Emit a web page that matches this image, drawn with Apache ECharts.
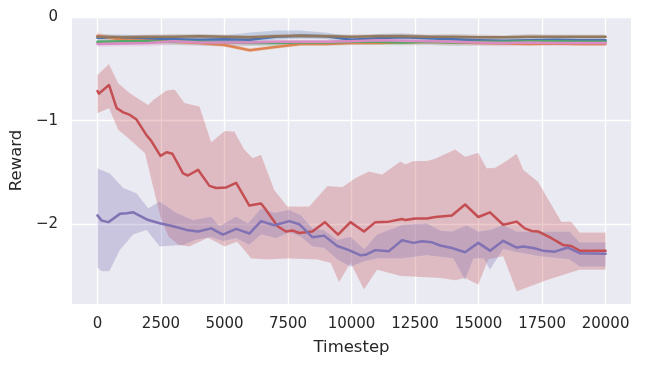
<!DOCTYPE html>
<html>
<head>
<meta charset="utf-8">
<script src="https://cdn.jsdelivr.net/npm/echarts@6/dist/echarts.min.js"></script>
<style>
  html, body { margin: 0; padding: 0; background: #fff; }
  #chart { width: 647px; height: 367px; }
</style>
</head>
<body>
<div id="chart"></div>
<script>
// axis ticks
const xTicks = [0, 2500, 5000, 7500, 10000, 12500, 15000, 17500, 20000];
const yTicks = [-2, -1, 0];

// the flat runs near the top share one x grid
const topX = [0, 1000, 2000, 3000, 4000, 5000, 6000, 7000, 8000, 9000, 10000,
  11000, 12000, 13000, 14000, 15000, 16000, 17000, 18000, 19000, 20000];
const blueY = [-0.20, -0.20, -0.21, -0.215, -0.22, -0.215, -0.22, -0.19, -0.18, -0.185, -0.22,
  -0.205, -0.195, -0.205, -0.215, -0.225, -0.23, -0.225, -0.22, -0.225, -0.225];
const blueHi = [-0.17, -0.17, -0.18, -0.18, -0.17, -0.175, -0.15, -0.13, -0.13, -0.15, -0.19,
  -0.165, -0.16, -0.175, -0.185, -0.19, -0.19, -0.185, -0.19, -0.195, -0.195];
const blueLo = [-0.23, -0.23, -0.24, -0.245, -0.25, -0.245, -0.25, -0.22, -0.21, -0.215, -0.26,
  -0.235, -0.235, -0.235, -0.245, -0.255, -0.26, -0.265, -0.25, -0.255, -0.255];
const orangeY = [-0.18, -0.22, -0.23, -0.24, -0.25, -0.27, -0.32, -0.29, -0.26, -0.26, -0.25,
  -0.25, -0.245, -0.24, -0.245, -0.25, -0.255, -0.26, -0.255, -0.26, -0.26];
const orangeHi = [-0.15, -0.2, -0.21, -0.22, -0.23, -0.25, -0.3, -0.27, -0.24, -0.24, -0.23,
  -0.23, -0.225, -0.22, -0.225, -0.23, -0.235, -0.24, -0.235, -0.24, -0.24];
const orangeLo = [-0.21, -0.24, -0.25, -0.26, -0.27, -0.29, -0.34, -0.31, -0.28, -0.28, -0.27,
  -0.27, -0.265, -0.26, -0.265, -0.27, -0.275, -0.28, -0.275, -0.28, -0.28];
const greenY = [-0.24, -0.235, -0.235, -0.24, -0.24, -0.245, -0.25, -0.25, -0.245, -0.245, -0.24,
  -0.24, -0.245, -0.24, -0.245, -0.24, -0.24, -0.235, -0.235, -0.24, -0.24];
const greenHi = [-0.22, -0.215, -0.215, -0.22, -0.22, -0.225, -0.23, -0.23, -0.225, -0.225, -0.22,
  -0.22, -0.225, -0.22, -0.225, -0.22, -0.22, -0.215, -0.215, -0.22, -0.22];
const greenLo = [-0.27, -0.265, -0.265, -0.27, -0.275, -0.28, -0.28, -0.28, -0.275, -0.275, -0.27,
  -0.27, -0.275, -0.27, -0.28, -0.275, -0.27, -0.265, -0.265, -0.27, -0.27];
const brownY = [-0.19, -0.195, -0.19, -0.19, -0.185, -0.19, -0.195, -0.185, -0.18, -0.185, -0.19,
  -0.185, -0.185, -0.19, -0.19, -0.195, -0.195, -0.19, -0.19, -0.19, -0.19];
const brownHi = [-0.17, -0.175, -0.17, -0.165, -0.165, -0.17, -0.175, -0.165, -0.16, -0.165, -0.17,
  -0.165, -0.16, -0.17, -0.165, -0.17, -0.175, -0.165, -0.17, -0.17, -0.17];
const brownLo = [-0.21, -0.215, -0.21, -0.21, -0.205, -0.21, -0.215, -0.205, -0.2, -0.205, -0.21,
  -0.205, -0.205, -0.21, -0.21, -0.215, -0.215, -0.21, -0.21, -0.21, -0.21];
const pinkY = [-0.26, -0.255, -0.25, -0.235, -0.245, -0.245, -0.245, -0.24, -0.24, -0.24, -0.235,
  -0.225, -0.23, -0.235, -0.24, -0.245, -0.25, -0.245, -0.25, -0.25, -0.25];
const pinkHi = [-0.24, -0.235, -0.23, -0.215, -0.225, -0.225, -0.225, -0.22, -0.22, -0.22, -0.215,
  -0.205, -0.21, -0.215, -0.22, -0.225, -0.23, -0.225, -0.23, -0.23, -0.23];
const pinkLo = [-0.29, -0.285, -0.285, -0.27, -0.28, -0.285, -0.28, -0.27, -0.27, -0.27, -0.265,
  -0.255, -0.265, -0.27, -0.275, -0.28, -0.285, -0.275, -0.28, -0.28, -0.28];

// red run
const redX = [0, 60, 455, 756, 1020, 1280, 1540, 1930, 2130, 2480, 2720, 2950, 3370, 3560, 3960,
  4410, 4670, 5070, 5460, 5980, 6440, 6630, 7090, 7420, 7680, 7940, 8460, 8950, 9470, 9960,
  10490, 10940, 11470, 11990, 12120, 12510, 12970, 13300, 13950, 14470, 14990, 15450, 15970,
  16500, 16820, 17080, 17340, 17870, 18320, 18650, 18980, 20000];
const redY = [-0.714, -0.74, -0.656, -0.88, -0.92, -0.945, -0.99, -1.14, -1.20, -1.34, -1.305,
  -1.32, -1.51, -1.53, -1.475, -1.63, -1.65, -1.645, -1.60, -1.82, -1.80, -1.86, -2.02, -2.07,
  -2.06, -2.085, -2.07, -1.98, -2.10, -1.98, -2.07, -1.98, -1.975, -1.95, -1.96, -1.945, -1.945,
  -1.93, -1.915, -1.81, -1.93, -1.885, -2.005, -1.975, -2.04, -2.065, -2.07, -2.135, -2.20,
  -2.21, -2.255, -2.255];
const redHiX = [0, 455, 820, 1280, 2000, 2190, 2720, 3040, 3430, 4020, 4480, 5000, 5390, 5780,
  6110, 6440, 6960, 7480, 8330, 9050, 9640, 10160, 10680, 11210, 11920, 12120, 12440, 12970,
  13300, 14080, 14470, 14990, 15320, 15650, 15970, 16500, 16760, 17340, 18260, 18650, 18980, 20000];
const redHiY = [-0.56, -0.453, -0.64, -0.736, -0.85, -0.80, -0.71, -0.70, -0.83, -0.865, -1.21,
  -1.10, -1.105, -1.28, -1.36, -1.33, -1.67, -1.83, -1.83, -1.63, -1.64, -1.555, -1.49, -1.52,
  -1.395, -1.42, -1.39, -1.39, -1.365, -1.28, -1.35, -1.31, -1.46, -1.455, -1.41, -1.32, -1.475,
  -1.59, -1.975, -1.975, -2.08, -2.08];
const redLoX = [0, 455, 820, 1150, 1870, 2190, 2480, 2800, 3200, 3630, 4350, 5000, 5500, 6050,
  6700, 7480, 8660, 9180, 9510, 9960, 10490, 11010, 11920, 13490, 14080, 14470, 14990, 15380,
  15970, 16500, 17020, 17670, 18980, 20000];
const redLoY = [-0.93, -0.88, -1.09, -1.155, -1.315, -1.64, -1.93, -2.12, -2.2, -2.215, -2.13,
  -2.215, -2.17, -2.33, -2.34, -2.33, -2.34, -2.375, -2.56, -2.375, -2.63, -2.44, -2.50, -2.52,
  -2.54, -2.52, -2.585, -2.34, -2.31, -2.65, -2.60, -2.54, -2.44, -2.44];

// purple run
const purX = [0, 170, 430, 885, 1150, 1410, 2000, 2450, 2980, 3500, 3960, 4480, 4940, 5460, 5980,
  6440, 6960, 7550, 7940, 8460, 8920, 9440, 9900, 10360, 10550, 10940, 11470, 11990, 12440,
  12770, 13170, 13490, 13950, 14470, 14990, 15450, 15970, 16500, 16760, 17150, 17540, 18000,
  18520, 18980, 20000];
const purY = [-1.915, -1.965, -1.98, -1.90, -1.895, -1.885, -1.96, -1.99, -2.02, -2.055, -2.07,
  -2.04, -2.10, -2.045, -2.09, -1.97, -2.01, -1.97, -2.0, -2.125, -2.11, -2.21, -2.25, -2.30,
  -2.295, -2.25, -2.26, -2.155, -2.18, -2.165, -2.175, -2.205, -2.23, -2.27, -2.18, -2.255,
  -2.16, -2.225, -2.215, -2.23, -2.255, -2.265, -2.225, -2.28, -2.285];
const purHiX = [0, 495, 1020, 1540, 2000, 2450, 3110, 3760, 4480, 4800, 5460, 5920, 6440, 6960,
  7550, 8000, 8460, 8920, 9440, 9960, 10500, 11000, 12000, 12970, 13490, 13950, 14520, 15000,
  15510, 15970, 16500, 17400, 18580, 18980, 20000];
const purHiY = [-1.46, -1.51, -1.65, -1.70, -1.845, -1.78, -1.89, -1.96, -1.925, -2.02, -1.925,
  -1.99, -1.845, -1.89, -1.86, -1.91, -2.04, -2.055, -2.15, -2.12, -2.24, -2.1, -2.005, -1.99,
  -2.06, -2.07, -2.01, -2.07, -2.05, -2.005, -2.07, -2.07, -2.07, -2.175, -2.175];
const purLoX = [0, 170, 470, 885, 1410, 1930, 2450, 3370, 3890, 4480, 4940, 5460, 5980, 6440,
  7030, 7550, 8000, 8460, 8920, 9440, 9960, 10500, 11000, 12000, 12970, 14000, 14470, 14800,
  15200, 15450, 15970, 16500, 17400, 18580, 18980, 20000];
const purLoY = [-2.42, -2.455, -2.455, -2.25, -2.10, -2.055, -2.215, -2.2, -2.15, -2.125, -2.165,
  -2.135, -2.20, -2.10, -2.135, -2.08, -2.12, -2.215, -2.23, -2.34, -2.41, -2.36, -2.33, -2.33,
  -2.30, -2.33, -2.54, -2.33, -2.33, -2.44, -2.24, -2.27, -2.31, -2.34, -2.41, -2.41];

const textColor = "#262626";
const font = "DejaVu Sans";

const zip = (xs, ys) => xs.map((x, i) => [x, ys[i]]);

const bandSeries = (hiX, hiY, loX, loY, color, alpha) => ({
  type: "custom",
  silent: true,
  z: 1,
  data: [[0, 0]],
  renderItem: (params, api) => {
    const pts = [];
    for (let i = 0; i < hiX.length; i++) pts.push(api.coord([hiX[i], hiY[i]]));
    for (let i = loX.length - 1; i >= 0; i--) pts.push(api.coord([loX[i], loY[i]]));
    return {
      type: "polygon",
      shape: { points: pts },
      style: { fill: color, opacity: alpha, stroke: "rgba(255,255,255,0.35)", lineWidth: 0.8 }
    };
  }
});

const lineSeries = (xs, ys, color) => ({
  type: "line",
  data: zip(xs, ys),
  showSymbol: false,
  silent: true,
  z: 2,
  lineStyle: { color, width: 2.5, cap: "round", join: "round" },
  itemStyle: { color }
});

const runs = [
  { x: topX, y: blueY, hx: topX, hi: blueHi, lx: topX, lo: blueLo, color: "#4C72B0", a: 0.25 },
  { x: topX, y: orangeY, hx: topX, hi: orangeHi, lx: topX, lo: orangeLo, color: "#DD8452", a: 0.22 },
  { x: topX, y: greenY, hx: topX, hi: greenHi, lx: topX, lo: greenLo, color: "#55A868", a: 0.22 },
  { x: redX, y: redY, hx: redHiX, hi: redHiY, lx: redLoX, lo: redLoY, color: "#C44E52", a: 0.3 },
  { x: purX, y: purY, hx: purHiX, hi: purHiY, lx: purLoX, lo: purLoY, color: "#8172B3", a: 0.3 },
  { x: topX, y: brownY, hx: topX, hi: brownHi, lx: topX, lo: brownLo, color: "#937860", a: 0.25 },
  { x: topX, y: pinkY, hx: topX, hi: pinkHi, lx: topX, lo: pinkLo, color: "#DA8BC3", a: 0.22 }
];

const series = [];
runs.forEach((r) => series.push(bandSeries(r.hx, r.hi, r.lx, r.lo, r.color, r.a)));
runs.forEach((r) => series.push(lineSeries(r.x, r.y, r.color)));

const chart = echarts.init(document.getElementById("chart"), null, { renderer: "canvas" });

chart.setOption({
  animation: false,
  backgroundColor: "#ffffff",
  textStyle: { fontFamily: font },
  grid: {
    left: 70,
    right: 16,
    top: 17,
    bottom: 63,
    show: true,
    backgroundColor: "#EAEAF2",
    borderWidth: 0
  },
  xAxis: {
    type: "value",
    min: -1000,
    max: 21000,
    name: "Timestep",
    nameLocation: "middle",
    nameGap: 35,
    nameTextStyle: { color: textColor, fontSize: 16.5, fontFamily: font },
    axisLine: { show: false },
    axisTick: { show: false, customValues: xTicks },
    axisLabel: {
      customValues: xTicks,
      color: textColor,
      fontSize: 15,
      fontFamily: font,
      margin: 13,
      formatter: (v) => String(v)
    },
    splitLine: { show: true, lineStyle: { color: "#ffffff", width: 1.3 } }
  },
  yAxis: {
    type: "value",
    min: -2.77,
    max: 0,
    name: "Reward",
    nameLocation: "middle",
    nameGap: 46,
    nameTextStyle: { color: textColor, fontSize: 16.5, fontFamily: font },
    axisLine: { show: false },
    axisTick: { show: false, customValues: yTicks },
    axisLabel: {
      customValues: yTicks,
      color: textColor,
      fontSize: 15,
      fontFamily: font,
      margin: 14,
      formatter: (v) => (v < 0 ? "\u2212" + Math.abs(v) : String(v))
    },
    splitLine: { show: true, lineStyle: { color: "#ffffff", width: 1.3 } }
  },
  series
});
</script>
</body>
</html>
